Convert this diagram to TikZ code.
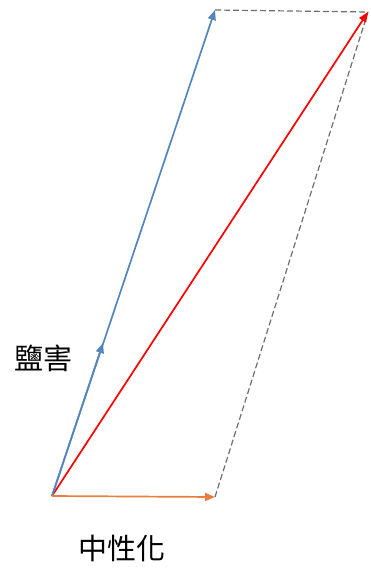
\documentclass[tikz,border=0pt]{standalone}
\usepackage{fontspec}
\newfontfamily\cjk{Noto Sans CJK TC}
\usetikzlibrary{arrows.meta}
\definecolor{vblue}{RGB}{84,134,190}
\definecolor{vorange}{RGB}{232,125,60}
\definecolor{vgrey}{RGB}{110,110,110}
\tikzset{
  vec/.style={line width=1.7pt,-{Triangle[length=10pt,width=8pt]}},
  guide/.style={line width=1.2pt,vgrey,dashed,dash pattern=on 6pt off 3pt},
  lab/.style={font=\cjk\fontsize{29}{33}\selectfont,inner sep=0pt}
}
\begin{document}
\begin{tikzpicture}[x=1pt,y=-1pt]
\useasboundingbox (0,0) rectangle (370,568);
\coordinate (O) at (52,496);
\coordinate (B) at (215,10);
\coordinate (C) at (215,497);
\coordinate (R) at (368,12);
\coordinate (M) at (103,343);
\draw[guide] (B) -- (R);
\draw[guide] (C) -- (R);
\draw[vec,red] (O) -- (R);
\draw[vec,vblue] (O) -- (B);
\draw[vec,vblue] (O) -- (M);
\draw[vec,vorange] (O) -- (C);
\node[lab] (salt) at (43,358) {鹽害};
\node[lab] (neut) at (122,548) {中性化};
\end{tikzpicture}
\end{document}
